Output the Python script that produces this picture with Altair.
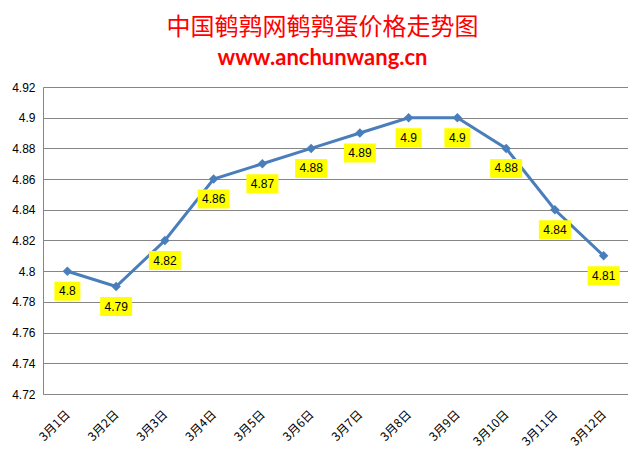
import altair as alt
import pandas as pd

dates = ["3月1日", "3月2日", "3月3日", "3月4日", "3月5日", "3月6日",
         "3月7日", "3月8日", "3月9日", "3月10日", "3月11日", "3月12日"]
prices = [4.80, 4.79, 4.82, 4.86, 4.87, 4.88, 4.89, 4.90, 4.90, 4.88, 4.84, 4.81]
labels = ["4.8", "4.79", "4.82", "4.86", "4.87", "4.88", "4.89", "4.9", "4.9", "4.88", "4.84", "4.81"]
y_ticks = [4.72, 4.74, 4.76, 4.78, 4.80, 4.82, 4.84, 4.86, 4.88, 4.90, 4.92]

df = pd.DataFrame({"date": dates, "price": prices, "label": labels})

x_enc = alt.X(
    "date:N", sort=dates,
    scale=alt.Scale(type="point", padding=0.5),
    axis=alt.Axis(title=None, labelAngle=-45, labelAlign="right", labelBaseline="middle",
                  labelFont="Noto Sans CJK SC", labelFontSize=12, labelColor="#000000",
                  ticks=False, domainColor="#868686", grid=False, labelPadding=18),
)
y_enc = alt.Y(
    "price:Q",
    scale=alt.Scale(domain=[4.72, 4.92], nice=False, zero=False),
    axis=alt.Axis(title=None, values=y_ticks, format="~g", ticks=False,
                  labelFont="Liberation Sans", labelFontSize=12, labelColor="#000000",
                  labelPadding=8, domainColor="#868686", gridColor="#868686",
                  gridOpacity=1, gridWidth=1),
)

base = alt.Chart(df).encode(x=x_enc, y=y_enc)

line = base.mark_line(color="#4A7EBB", strokeWidth=3)
pts = base.mark_point(shape="diamond", filled=True, color="#4A7EBB", size=90, opacity=1)

p4 = "M-1,-0.594L1,-0.594L1,0.594L-1,0.594Z"
p3 = "M-0.8125,-0.594L0.8125,-0.594L0.8125,0.594L-0.8125,0.594Z"
boxes = base.transform_calculate(w="length(datum.label)").mark_point(
    filled=True, color="#FFFF00", opacity=1, size=1024, strokeWidth=0, yOffset=20
).encode(shape=alt.Shape("w:N", scale=alt.Scale(domain=[3, 4], range=[p3, p4]), legend=None))

texts = base.mark_text(font="Liberation Sans", fontSize=12, color="#000000",
                       baseline="middle", align="center", yOffset=20).encode(text="label:N")

chart = alt.layer(line, pts, boxes, texts).properties(
    width=585, height=307,
    autosize=alt.AutoSizeParams(type="none"),
    padding={"left": 35, "top": 79, "right": 0, "bottom": 60},
    title=alt.TitleParams(
        text="中国鹌鹑网鹌鹑蛋价格走势图",
        subtitle="www.anchunwang.cn",
        anchor="middle", dx=-13, offset=12,
        font="Noto Sans CJK SC", fontSize=24, fontWeight="normal", color="#FF0000",
        subtitleFont="Lato", subtitleFontSize=22, subtitleFontWeight="bold",
        subtitleColor="#FF0000", subtitlePadding=8,
    ),
).configure_view(stroke=None).configure(background="#FFFFFF")

chart.save("out.html", embed_options={"renderer": "svg", "actions": False})
